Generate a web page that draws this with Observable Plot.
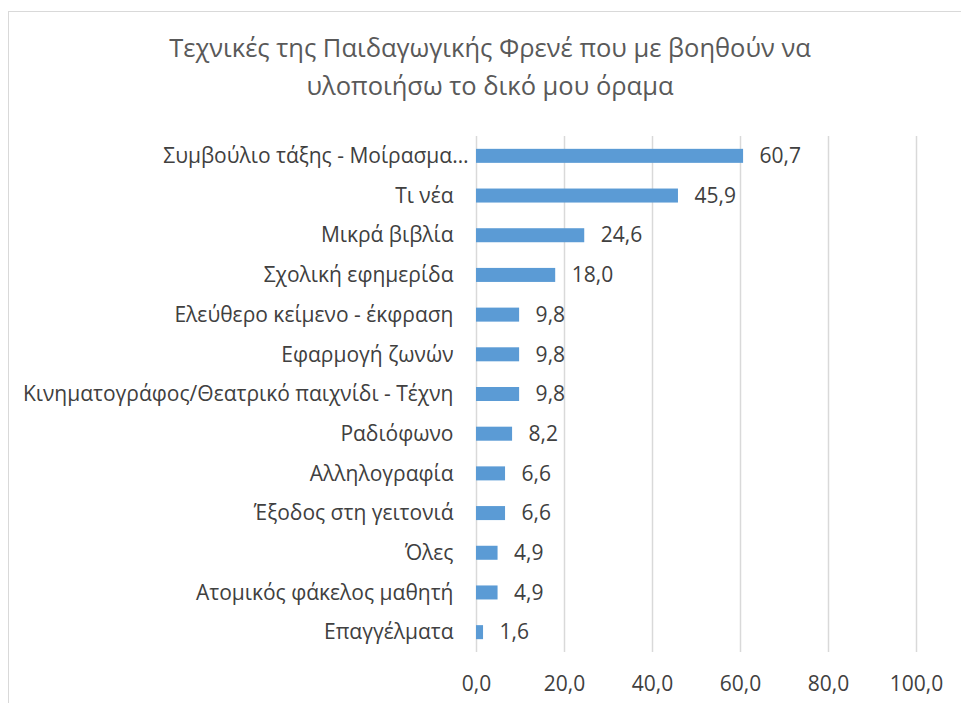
<!DOCTYPE html>
<html>
<head>
<meta charset="utf-8">
<script src="https://cdn.jsdelivr.net/npm/d3@7"></script>
<script src="https://cdn.jsdelivr.net/npm/@observablehq/plot@0.6"></script>
<style>
  body { margin: 0; background: #fff; }
  #wrap { position: relative; width: 961px; height: 703px; overflow: hidden; font-family: "Open Sans", sans-serif; }
  #frame { position: absolute; left: 8px; top: 11px; width: 1000px; height: 760px; border: 1px solid #d9d9d9; box-sizing: border-box; }
  #title { position: absolute; left: 0; top: 28px; width: 980px; text-align: center; font-size: 25.5px; line-height: 38px; color: #595959; }
  #chart { position: absolute; left: 0; top: 0; }
</style>
</head>
<body>
<div id="wrap">
  <div id="frame"></div>
  <div id="title">Τεχνικές της Παιδαγωγικής Φρενέ που με βοηθούν να<br>υλοποιήσω το δικό μου όραμα</div>
  <div id="chart"></div>
</div>
<script>
const categories = [
  "Συμβούλιο τάξης - Μοίρασμα…",
  "Τι νέα",
  "Μικρά βιβλία",
  "Σχολική εφημερίδα",
  "Ελεύθερο κείμενο - έκφραση",
  "Εφαρμογή ζωνών",
  "Κινηματογράφος/Θεατρικό παιχνίδι - Τέχνη",
  "Ραδιόφωνο",
  "Αλληλογραφία",
  "Έξοδος στη γειτονιά",
  "Όλες",
  "Ατομικός φάκελος μαθητή",
  "Επαγγέλματα"
];
const values = [60.7, 45.9, 24.6, 18.0, 9.8, 9.8, 9.8, 8.2, 6.6, 6.6, 4.9, 4.9, 1.6];
const xTicks = [0, 20, 40, 60, 80, 100];

const data = categories.map((c, i) => ({category: c, value: values[i]}));
const fmt = v => d3.format(".1f")(v).replace(".", ",");
const textColor = "#404040";
const fs = 21;

const chart = Plot.plot({
  width: 961,
  height: 703,
  marginLeft: 476,
  marginRight: 45,
  marginTop: 136,
  marginBottom: 51,
  style: {fontFamily: "'Open Sans', sans-serif", fontSize: fs + "px", color: textColor, background: "transparent"},
  x: {domain: [0, 100], label: null},
  y: {domain: categories, paddingInner: 0.647, paddingOuter: 0.3235, round: false, label: null},
  marks: [
    Plot.gridX(xTicks, {stroke: "#d9d9d9", strokeOpacity: 1, strokeWidth: 1.5}),
    Plot.barX(data, {x: "value", y: "category", fill: "#5B9BD5"}),
    Plot.text(data, {x: "value", y: "category", text: d => fmt(d.value), textAnchor: "start", dx: 16, fill: textColor, fontSize: fs}),
    Plot.axisX({ticks: xTicks, tickFormat: fmt, tickSize: 0, tickPadding: 24, fontSize: fs, fill: textColor, label: null}),
    Plot.axisY({ticks: categories.slice(1), tickSize: 0, tickPadding: 23, fontSize: fs, fill: textColor, label: null}),
    Plot.axisY({ticks: categories.slice(0, 1), tickSize: 0, tickPadding: 8, fontSize: fs, fill: textColor, label: null})
  ]
});
document.getElementById("chart").appendChild(chart);
</script>
</body>
</html>
